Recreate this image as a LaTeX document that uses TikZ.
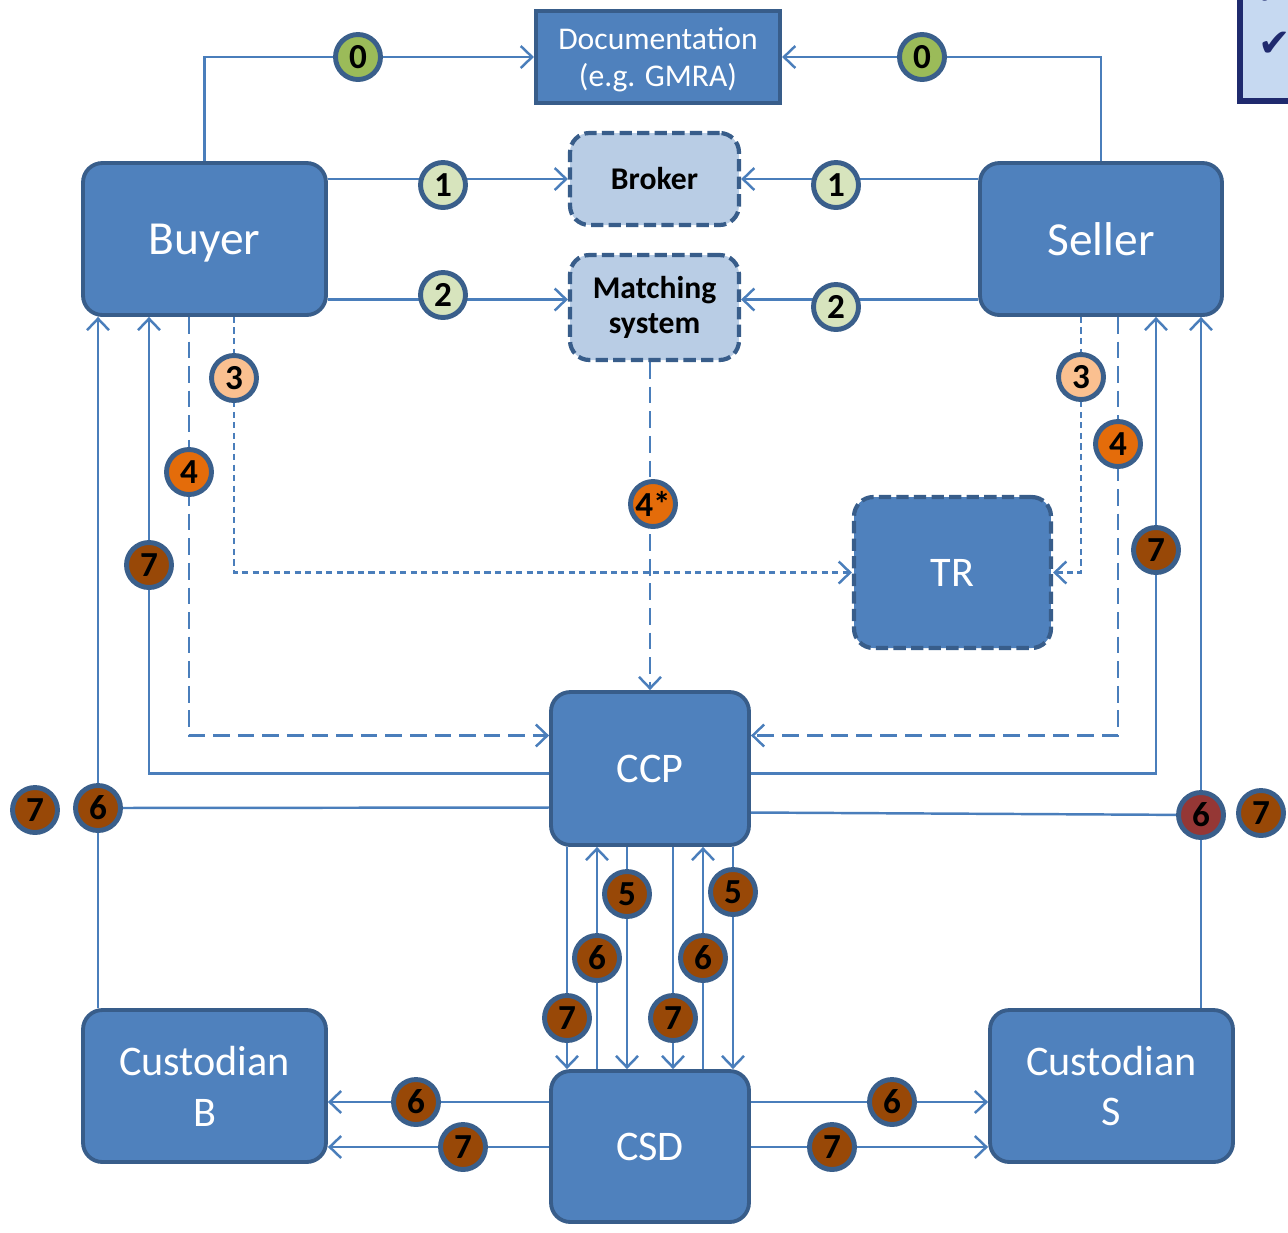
\documentclass[tikz,border=0pt]{standalone}
\usepackage{fontspec}
\setmainfont{Carlito}
\newfontfamily\symfont{DejaVu Sans}
\usetikzlibrary{arrows.meta,backgrounds}

\definecolor{boxblue}{HTML}{4F81BD}
\definecolor{boxedge}{HTML}{385D8A}
\definecolor{paleblue}{HTML}{B9CDE5}
\definecolor{linkblue}{HTML}{4A7EBB}
\definecolor{ringblue}{HTML}{3A5F8B}
\definecolor{navy}{HTML}{1F2A6E}
\definecolor{tickfill}{HTML}{C6D9F1}
\definecolor{agreegreen}{HTML}{9BBB59}
\definecolor{palegreen}{HTML}{D7E4BD}
\definecolor{peach}{HTML}{FAC090}
\definecolor{clearorange}{HTML}{E46C0A}
\definecolor{settlebrown}{HTML}{984807}
\definecolor{settlered}{HTML}{953735}

\tikzset{
	party/.style={draw=boxedge, fill=boxblue, line width=2.2pt, rounded corners=11pt, text=white, align=center, inner sep=0pt, font=\fontsize{24}{29}\selectfont},
	relay/.style={draw=boxedge, fill=paleblue, line width=2.4pt, dash pattern=on 7pt off 3pt, rounded corners=11pt, align=center, inner sep=0pt, font=\bfseries\fontsize{18}{20}\selectfont},
	link/.style={draw=linkblue, line width=1.4pt, -{Straight Barb[length=6.5pt,width=12.5pt]}},
	plainlink/.style={draw=linkblue, line width=1.4pt},
	shortdash/.style={dash pattern=on 3.5pt off 2.5pt},
	longdash/.style={dash pattern=on 9.5pt off 4.5pt},
	badge/.style={circle, draw=ringblue, line width=2.8pt, minimum size=0.9cm, inner sep=0pt, font=\bfseries\fontsize{20}{20}\selectfont}
}
\def\badge[#1](#2)(#3)#4{\node[badge, fill=#1] (#2) at (#3) {#4};}

\begin{document}
\begin{tikzpicture}[x=0.02cm, y=-0.02cm]
		%%%%% START %%%%%
		\useasboundingbox (0,0) rectangle (1288,1232);
		
		% checklist box cut by the margin
		\draw[draw=navy, fill=tickfill, line width=3pt] (1240,-20) rectangle (1320,101);
		\node[text=navy, font=\symfont\fontsize{22}{22}\selectfont] (tickA) at (1272,-8) {✔};
		\node[text=navy, font=\symfont\fontsize{22}{22}\selectfont] (tickB) at (1275,44) {✔};
		
		% boxes
		\node[party, rounded corners=0pt, line width=2.4pt, minimum width=4.88cm, minimum height=1.84cm, text depth=0pt, font=\fontsize{18}{21}\selectfont] (doc) at (658,57) {Documentation\\(e.g. GMRA)};
		\node[party, minimum width=4.86cm, minimum height=3.04cm, text depth=0pt, font=\fontsize{27}{30}\selectfont] (buyer) at (204.5,239) {Buyer};
		\node[party, minimum width=4.84cm, minimum height=3.04cm, font=\fontsize{27}{30}\selectfont] (seller) at (1101,239) {Seller};
		\node[relay, minimum width=3.38cm, minimum height=1.84cm] (broker) at (654.5,179) {Broker};
		\node[relay, minimum width=3.38cm, minimum height=2.1cm] (match) at (654.5,307.5) {Matching\\system};
		\node[party, dash pattern=on 7pt off 3pt, line width=2.4pt, minimum width=3.94cm, minimum height=3.02cm] (tr) at (952.5,572.5) {TR};
		\node[party, minimum width=3.96cm, minimum height=3.06cm] (ccp) at (650,768.5) {CCP};
		\node[party, minimum width=3.96cm, minimum height=3.02cm] (csd) at (650,1146.5) {CSD};
		\node[party, minimum width=4.86cm, minimum height=3.04cm] (custb) at (204.5,1086) {Custodian\\B};
		\node[party, minimum width=4.86cm, minimum height=3.04cm] (custs) at (1111.5,1086) {Custodian\\S};
		
		% numbered steps
		\badge[agreegreen](b0)(358,57){0}
		\badge[agreegreen](s0)(922,57){0}
		\badge[palegreen](b1)(443,185){1}
		\badge[palegreen](s1)(836,185){1}
		\badge[palegreen](b2)(443,295){2}
		\badge[palegreen](s2)(836,307){2}
		\badge[peach](b3)(234,378){3}
		\badge[peach](s3)(1081,377){3}
		\badge[clearorange](b4)(189,472){4}
		\badge[clearorange](s4)(1118,444){4}
		\badge[clearorange](m4)(653,504){4*}
		\badge[settlebrown](b7)(149,565){7}
		\badge[settlebrown](s7)(1156,550){7}
		\badge[settlebrown](b6)(98,808){6}
		\badge[settlebrown](bb7)(35,810){7}
		\badge[settlered](s6)(1201,815){6}
		\badge[settlebrown](ss7)(1261,813){7}
		\badge[settlebrown](c5a)(627,894){5}
		\badge[settlebrown](c5b)(733,892){5}
		\badge[settlebrown](c6a)(597,958){6}
		\badge[settlebrown](c6b)(703,958){6}
		\badge[settlebrown](c7a)(567,1018){7}
		\badge[settlebrown](c7b)(673,1018){7}
		\badge[settlebrown](d6)(416,1102){6}
		\badge[settlebrown](d7)(463,1147){7}
		\badge[settlebrown](e6)(892,1102){6}
		\badge[settlebrown](e7)(832,1147){7}
		
		\begin{scope}[on background layer]
			% agreement
			\draw[link] (buyer.north) |- (doc.west);
			\draw[link] (seller.north) |- (doc.east);
			% trading
			\draw[link] (buyer.east |- broker.west) -- (broker.west);
			\draw[link] (seller.west |- broker.east) -- (broker.east);
			\draw[link] ([shift={(0,-8)}]buyer.east |- match.west) -- ([shift={(0,-8)}]match.west);
			\draw[link] ([shift={(0,-8)}]seller.west |- match.east) -- ([shift={(0,-8)}]match.east);
			% reporting
			\draw[link, shortdash] (b3 |- buyer.south) |- (tr.west);
			\draw[link, shortdash] (s3 |- seller.south) |- (tr.east);
			% clearing
			\draw[link, longdash] (b4 |- buyer.south) |- ([shift={(0,-33)}]ccp.west);
			\draw[link, longdash] (s4 |- seller.south) |- ([shift={(0,-33)}]ccp.east);
			\draw[link, longdash] (match.south -| ccp.north) -- (ccp.north);
			% settlement
			\draw[link] ([shift={(0,5)}]ccp.west) -| (b7 |- buyer.south);
			\draw[link] ([shift={(0,5)}]ccp.east) -| (s7 |- seller.south);
			\draw[plainlink] ([shift={(0,39)}]ccp.west) -- (b6);
			\draw[link] (b6 |- custb.north) -- (b6 |- buyer.south);
			\draw[plainlink] ([shift={(0,44)}]ccp.east) -- (s6);
			\draw[link] (s6 |- custs.north) -- (s6 |- seller.south);
			\draw[link] (c7a |- ccp.south) -- (c7a |- csd.north);
			\draw[link] (c6a |- csd.north) -- (c6a |- ccp.south);
			\draw[link] (c5a |- ccp.south) -- (c5a |- csd.north);
			\draw[link] (c7b |- ccp.south) -- (c7b |- csd.north);
			\draw[link] (c6b |- csd.north) -- (c6b |- ccp.south);
			\draw[link] (c5b |- ccp.south) -- (c5b |- csd.north);
			\draw[link] (csd.west |- d6) -- (custb.east |- d6);
			\draw[link] (csd.west |- d7) -- (custb.east |- d7);
			\draw[link] (csd.east |- e6) -- (custs.west |- e6);
			\draw[link] (csd.east |- e7) -- (custs.west |- e7);
		\end{scope}
		
		%%%%% END %%%%%
	\end{tikzpicture}
\end{document}
